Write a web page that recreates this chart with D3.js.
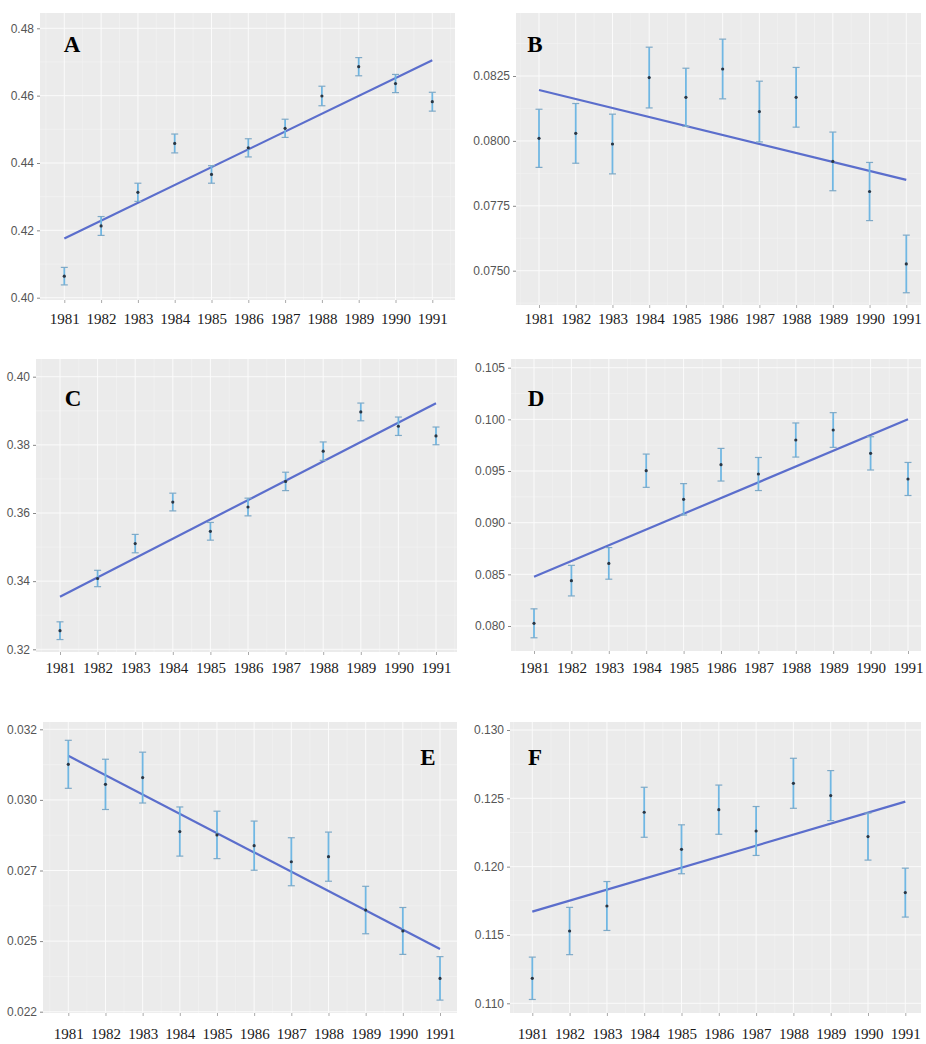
<!DOCTYPE html>
<html>
<head>
<meta charset="utf-8">
<script src="https://cdn.jsdelivr.net/npm/d3@7"></script>
<style>
  html, body { margin: 0; padding: 0; background: #ffffff; }
  svg { display: block; }
</style>
</head>
<body>
<svg id="chart" width="926" height="1044"></svg>
<script>
// ---------- DATA ----------
const years = [1981, 1982, 1983, 1984, 1985, 1986, 1987, 1988, 1989, 1990, 1991];
const yearLabels = ["1981", "1982", "1983", "1984", "1985", "1986", "1987", "1988", "1989", "1990", "1991"];

const valuesA = [0.4064, 0.4213, 0.4313, 0.4458, 0.4366, 0.4445, 0.4503, 0.4599, 0.4686, 0.4636, 0.4582];
const errA    = [0.0026, 0.0028, 0.0027, 0.0028, 0.0026, 0.0027, 0.0027, 0.0029, 0.0027, 0.0027, 0.0028];
const trendA  = [0.4176, 0.4705];
const ticksA  = [0.40, 0.42, 0.44, 0.46, 0.48];
const tickLabelsA = ["0.40", "0.42", "0.44", "0.46", "0.48"];

const valuesB = [0.08010, 0.08029, 0.07988, 0.08244, 0.08168, 0.08277, 0.08113, 0.08168, 0.07921, 0.07805, 0.07526];
const errB    = [0.00112, 0.00115, 0.00115, 0.00117, 0.00112, 0.00115, 0.00117, 0.00115, 0.00113, 0.00112, 0.00111];
const trendB  = [0.08196, 0.07850];
const ticksB  = [0.0750, 0.0775, 0.0800, 0.0825];
const tickLabelsB = ["0.0750", "0.0775", "0.0800", "0.0825"];

const valuesC = [0.32546, 0.34078, 0.35102, 0.36322, 0.35463, 0.36176, 0.36927, 0.37815, 0.38966, 0.38546, 0.38263];
const errC    = [0.0026, 0.0024, 0.0027, 0.0026, 0.0026, 0.0026, 0.0027, 0.0027, 0.0026, 0.0027, 0.0026];
const trendC  = [0.33541, 0.39220];
const ticksC  = [0.32, 0.34, 0.36, 0.38, 0.40];
const tickLabelsC = ["0.32", "0.34", "0.36", "0.38", "0.40"];

const valuesD = [0.08026, 0.08439, 0.08606, 0.09503, 0.09226, 0.09561, 0.09471, 0.09800, 0.09897, 0.09671, 0.09423];
const errD    = [0.00140, 0.00148, 0.00153, 0.00161, 0.00152, 0.00158, 0.00160, 0.00165, 0.00168, 0.00161, 0.00160];
const trendD  = [0.08477, 0.10000];
const ticksD  = [0.080, 0.085, 0.090, 0.095, 0.100, 0.105];
const tickLabelsD = ["0.080", "0.085", "0.090", "0.095", "0.100", "0.105"];

const valuesE = [0.03076, 0.03005, 0.03029, 0.02838, 0.02826, 0.02788, 0.02731, 0.02749, 0.02560, 0.02486, 0.02318];
const errE    = [0.00085, 0.00089, 0.00090, 0.00087, 0.00084, 0.00087, 0.00085, 0.00087, 0.00084, 0.00083, 0.00077];
const trendE  = [0.03106, 0.02422];
const ticksE  = [0.0220, 0.0245, 0.0270, 0.0295, 0.0320];
const tickLabelsE = ["0.022", "0.025", "0.027", "0.030", "0.032"];

const valuesF = [0.11183, 0.11529, 0.11712, 0.12398, 0.12127, 0.12417, 0.12261, 0.12610, 0.12520, 0.12220, 0.11810];
const errF    = [0.00155, 0.00173, 0.00179, 0.00183, 0.00179, 0.00180, 0.00179, 0.00183, 0.00183, 0.00172, 0.00179];
const trendF  = [0.11671, 0.12476];
const ticksF  = [0.110, 0.115, 0.120, 0.125, 0.130];
const tickLabelsF = ["0.110", "0.115", "0.120", "0.125", "0.130"];

const panelLetters = ["A", "B", "C", "D", "E", "F"];

// ---------- LAYOUT (pixel geometry, kept separate from data) ----------
const layout = [
  { rect: [40, 13, 455, 300],   xPix: [64.3, 432.3],  yPix: [297.7, 28.3],  labelBase: 324,  letter: [72, 52] },
  { rect: [516, 13, 921, 305],  xPix: [539, 906.3],   yPix: [270.7, 76],    labelBase: 324,  letter: [535, 52] },
  { rect: [36, 359, 457, 652],  xPix: [60, 436],      yPix: [649.3, 376.7], labelBase: 673,  letter: [73, 406] },
  { rect: [511, 359, 921, 651], xPix: [534, 908],     yPix: [626, 367.7],   labelBase: 673,  letter: [536, 406] },
  { rect: [43, 722, 457, 1013], xPix: [68.3, 440],    yPix: [1011.7, 729.3],labelBase: 1039, letter: [428, 765] },
  { rect: [510, 722, 921, 1013],xPix: [532.3, 905.3], yPix: [1003.3, 730],  labelBase: 1039, letter: [535, 765] }
];

const panels = [
  { values: valuesA, err: errA, trend: trendA, ticks: ticksA, tickLabels: tickLabelsA },
  { values: valuesB, err: errB, trend: trendB, ticks: ticksB, tickLabels: tickLabelsB },
  { values: valuesC, err: errC, trend: trendC, ticks: ticksC, tickLabels: tickLabelsC },
  { values: valuesD, err: errD, trend: trendD, ticks: ticksD, tickLabels: tickLabelsD },
  { values: valuesE, err: errE, trend: trendE, ticks: ticksE, tickLabels: tickLabelsE },
  { values: valuesF, err: errF, trend: trendF, ticks: ticksF, tickLabels: tickLabelsF }
];

// ---------- DRAW ----------
const svg = d3.select("#chart");

panels.forEach((p, i) => {
  const L = layout[i];
  const [x0, y0, x1, y1] = L.rect;
  const g = svg.append("g");

  const x = d3.scaleLinear().domain([years[0], years[years.length - 1]]).range(L.xPix);
  const y = d3.scaleLinear().domain([p.ticks[0], p.ticks[p.ticks.length - 1]]).range(L.yPix);

  // panel background
  g.append("rect").attr("x", x0).attr("y", y0).attr("width", x1 - x0).attr("height", y1 - y0)
    .attr("fill", "#ebebeb");

  // minor grid (y)
  const step = p.ticks[1] - p.ticks[0];
  const minorY = [];
  for (let k = -1; k < p.ticks.length; k++) {
    const v = p.ticks[0] + (k + 0.5) * step;
    const py = y(v);
    if (py > y0 && py < y1) minorY.push(v);
  }
  g.selectAll(".minory").data(minorY).join("line")
    .attr("x1", x0).attr("x2", x1).attr("y1", d => y(d)).attr("y2", d => y(d))
    .attr("stroke", "#f4f4f4").attr("stroke-width", 0.6);

  // minor grid (x)
  const minorX = [];
  for (let k = -1; k < years.length; k++) {
    const v = years[0] + k + 0.5;
    const px = x(v);
    if (px > x0 && px < x1) minorX.push(v);
  }
  g.selectAll(".minorx").data(minorX).join("line")
    .attr("y1", y0).attr("y2", y1).attr("x1", d => x(d)).attr("x2", d => x(d))
    .attr("stroke", "#f4f4f4").attr("stroke-width", 0.6);

  // major grid
  g.selectAll(".majory").data(p.ticks).join("line")
    .attr("x1", x0).attr("x2", x1).attr("y1", d => y(d)).attr("y2", d => y(d))
    .attr("stroke", "#fbfbfb").attr("stroke-width", 1.0);
  g.selectAll(".majorx").data(years).join("line")
    .attr("y1", y0).attr("y2", y1).attr("x1", d => x(d)).attr("x2", d => x(d))
    .attr("stroke", "#fbfbfb").attr("stroke-width", 1.0);

  // y axis
  const yAxis = d3.axisLeft(y).tickValues(p.ticks)
    .tickFormat((d, j) => p.tickLabels[j]).tickSize(3).tickPadding(3);
  const ya = g.append("g").attr("transform", `translate(${x0},0)`).call(yAxis);
  ya.select(".domain").remove();
  ya.selectAll(".tick line").attr("stroke", "#888");
  ya.selectAll(".tick text").attr("fill", "#555")
    .style("font-family", "'Liberation Sans', Arial, sans-serif").style("font-size", "12px");

  // x axis
  const xAxis = d3.axisBottom(x).tickValues(years)
    .tickFormat((d, j) => yearLabels[j]).tickSize(3).tickPadding(L.labelBase - y1 - 14);
  const xa = g.append("g").attr("transform", `translate(0,${y1})`).call(xAxis);
  xa.select(".domain").remove();
  xa.selectAll(".tick line").attr("stroke", "#aaa");
  xa.selectAll(".tick text").attr("fill", "#1a1a1a")
    .style("font-family", "'Liberation Serif', 'Times New Roman', serif").style("font-size", "15px");

  // trend line
  const trendPts = [[years[0], p.trend[0]], [years[years.length - 1], p.trend[1]]];
  g.append("path").datum(trendPts)
    .attr("d", d3.line().x(d => x(d[0])).y(d => y(d[1])))
    .attr("fill", "none").attr("stroke", "#5b6ecc").attr("stroke-width", 2.2);

  // error bars
  const eb = g.selectAll(".eb").data(years).join("g");
  eb.append("line")
    .attr("x1", d => x(d)).attr("x2", d => x(d))
    .attr("y1", (d, j) => y(p.values[j] - p.err[j])).attr("y2", (d, j) => y(p.values[j] + p.err[j]))
    .attr("stroke", "#70b7e3").attr("stroke-width", 1.8);
  eb.append("line")
    .attr("x1", d => x(d) - 3.5).attr("x2", d => x(d) + 3.5)
    .attr("y1", (d, j) => y(p.values[j] + p.err[j])).attr("y2", (d, j) => y(p.values[j] + p.err[j]))
    .attr("stroke", "#7fa9c6").attr("stroke-width", 1.2);
  eb.append("line")
    .attr("x1", d => x(d) - 3.5).attr("x2", d => x(d) + 3.5)
    .attr("y1", (d, j) => y(p.values[j] - p.err[j])).attr("y2", (d, j) => y(p.values[j] - p.err[j]))
    .attr("stroke", "#7fa9c6").attr("stroke-width", 1.2);

  // points
  g.selectAll(".pt").data(years).join("circle")
    .attr("cx", d => x(d)).attr("cy", (d, j) => y(p.values[j]))
    .attr("r", 1.6).attr("fill", "#2a3644");

  // panel letter
  g.append("text").attr("x", L.letter[0]).attr("y", L.letter[1])
    .attr("text-anchor", "middle")
    .style("font-family", "'Liberation Serif', 'Times New Roman', serif")
    .style("font-weight", "bold").style("font-size", "23px").attr("fill", "#000")
    .text(panelLetters[i]);
});
</script>
</body>
</html>
